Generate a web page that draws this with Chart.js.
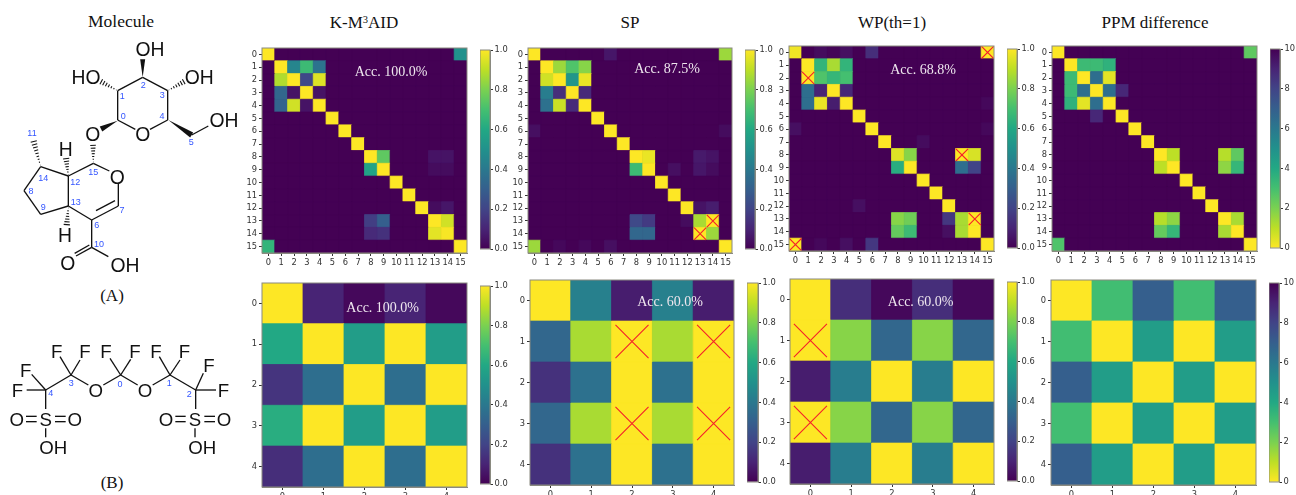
<!DOCTYPE html>
<html><head><meta charset="utf-8">
<script src="https://cdn.jsdelivr.net/npm/chart.js@4"></script>
<style>
html,body{margin:0;padding:0;background:#fff;width:1296px;height:495px;overflow:hidden}
canvas{position:absolute;display:block}
.t{position:absolute;transform:translate(-50%,-50%);font-family:"Liberation Serif",serif;white-space:nowrap;color:#111;line-height:1}
.t sup{font-size:.62em;line-height:0;vertical-align:.42em}
.acc{color:#eee6ee;font-size:14px;z-index:5}
svg{position:absolute;left:0;top:0}
</style></head><body>
<script>
// ---------- data ----------
const atoms16 = [0,1,2,3,4,5,6,7,8,9,10,11,12,13,14,15];
const atoms5 = [0,1,2,3,4];
const scoreTicks = [0,0.2,0.4,0.6,0.8,1];
const ppmTicks = [0,2,4,6,8,10];

const kmaidA = [
[1,0,0,0,0,0,0,0,0,0,0,0,0,0,0,.5],
[0,1,.45,.68,.38,0,0,0,0,0,0,0,0,0,0,0],
[0,.88,1,.22,.95,0,0,0,0,0,0,0,0,0,0,0],
[0,.33,.05,1,.05,0,0,0,0,0,0,0,0,0,0,0],
[0,.32,.93,.05,1,0,0,0,0,0,0,0,0,0,0,0],
[0,0,0,0,0,1,0,0,0,0,0,0,0,0,0,0],
[0,0,0,0,0,0,1,0,0,0,0,0,0,0,0,0],
[0,0,0,0,0,0,0,1,0,0,0,0,0,0,0,0],
[0,0,0,0,0,0,0,0,1,.75,0,0,0,.05,.05,0],
[0,0,0,0,0,0,0,0,.58,1,0,0,0,.03,.03,0],
[0,0,0,0,0,0,0,0,0,0,1,0,0,0,0,0],
[0,0,0,0,0,0,0,0,0,0,0,1,0,0,0,0],
[0,0,0,0,0,0,0,0,0,0,0,0,1,.03,.06,0],
[0,0,0,0,0,0,0,0,.18,.3,0,0,0,1,.93,0],
[0,0,0,0,0,0,0,0,.12,.14,0,0,0,.96,.99,0],
[.65,0,0,0,0,0,0,0,0,0,0,0,0,0,0,1]];
const spA = [
[1,0,0,0,0,0,.06,0,0,0,0,0,0,0,0,.85],
[0,1,.85,.72,.82,0,0,0,0,0,0,0,0,0,0,0],
[0,.93,1,.52,.97,0,0,0,0,0,0,0,0,0,0,0],
[0,.42,.13,1,.12,0,0,0,0,0,0,0,0,0,0,0],
[0,.37,.92,.12,1,0,0,0,0,0,0,0,0,0,0,0],
[0,0,0,0,0,1,0,0,0,0,0,0,0,0,0,0],
[.04,0,0,0,0,0,1,0,0,0,0,0,0,0,0,.03],
[0,0,0,0,0,0,0,1,0,0,0,0,0,0,0,0],
[0,0,0,0,0,0,0,0,1,.97,0,0,0,.07,.05,0],
[0,0,0,0,0,0,0,0,.68,1,0,.04,0,.06,.03,0],
[0,0,0,0,0,0,0,0,0,0,1,0,0,0,0,0],
[0,0,0,0,0,0,0,0,0,0,0,1,0,0,0,0],
[0,0,0,0,0,0,0,0,0,0,0,0,1,.05,.08,0],
[0,0,0,0,0,0,0,0,.22,.17,0,0,.03,.87,1,0],
[0,0,0,0,0,0,0,0,.33,.33,0,0,0,1,.85,0],
[.85,0,.02,0,.02,0,.04,0,0,0,0,0,0,0,0,1]];
const wpA = [
[.98,0,.03,.01,.04,0,.13,0,0,0,0,0,0,0,0,1],
[0,1,.65,.87,.65,0,0,0,0,0,0,0,0,0,0,0],
[0,1,.72,.66,.7,0,0,0,0,0,0,0,0,0,0,0],
[0,.36,.1,1,.11,0,0,0,0,0,0,0,0,0,0,0],
[0,.36,.97,.08,1,0,0,0,0,0,0,0,0,0,0,.02],
[0,0,0,0,0,1,0,0,0,0,0,0,0,0,0,0],
[.04,0,0,0,0,0,1,0,0,0,0,0,0,0,0,.02],
[0,0,0,0,0,0,0,1,0,0,.03,0,0,0,0,0],
[0,0,0,0,0,0,0,0,.95,.82,0,0,0,1,.94,0],
[0,0,0,0,0,0,0,0,.62,1,0,0,0,.36,.2,0],
[0,0,0,0,0,0,0,0,0,0,1,0,0,0,0,0],
[0,0,0,0,0,0,0,0,0,0,0,1,0,0,0,0],
[0,0,0,0,0,.04,0,0,0,0,0,0,1,0,0,0],
[0,0,0,0,0,0,0,0,.82,.78,0,0,.16,.87,1,0],
[0,0,0,0,0,0,0,0,.76,.68,0,0,.04,.87,1,0],
[1,0,.02,0,.04,0,.16,0,0,0,0,0,0,0,0,1]];
const ppmA = [
[0,10,10,10,10,10,10,10,10,10,10,10,10,10,10,2.5],
[10,0,3.2,3.2,3.6,10,10,10,10,10,10,10,10,10,10,10],
[10,3.2,0,6.4,.4,10,10,10,10,10,10,10,10,10,10,10],
[10,3.2,6.4,0,6.4,8.9,10,10,10,10,10,10,10,10,10,10],
[10,3.6,.4,6.4,0,10,10,10,10,10,10,10,10,10,10,10],
[10,10,10,8.9,10,0,10,10,10,10,10,10,10,10,10,10],
[10,10,10,10,10,10,0,10,10,10,10,10,10,10,10,10],
[10,10,10,10,10,10,10,0,10,10,10,10,10,10,10,10],
[10,10,10,10,10,10,10,10,0,1,10,10,10,1.1,2.5,10],
[10,10,10,10,10,10,10,10,1,0,10,10,10,1.7,3.4,10],
[10,10,10,10,10,10,10,10,10,10,0,10,10,10,10,10],
[10,10,10,10,10,10,10,10,10,10,10,0,10,10,10,10],
[10,10,10,10,10,10,10,10,10,10,10,10,0,10,10,10],
[10,10,10,10,10,10,10,10,1.1,1.7,10,10,10,0,1.3,10],
[10,10,10,10,10,10,10,10,2.4,3.4,10,10,10,1.3,0,10],
[2.8,10,10,10,10,10,10,10,10,10,10,10,10,10,10,0]];
const kmaidB = [[1,.1,.02,.1,.02],[.6,1,.55,1,.55],[.15,.36,1,.36,1],[.62,1,.55,1,.55],[.13,.36,1,.36,1]];
const spB = [[1,.43,.08,.43,.08],[.33,.87,1,.87,1],[.14,.37,1,.37,1],[.33,.87,1,.87,1],[.14,.37,1,.37,1]];
const wpB = [[1,.13,.02,.13,.02],[1,.82,.33,.82,.33],[.08,.42,1,.42,1],[1,.82,.33,.82,.33],[.08,.42,1,.42,1]];
const ppmB = [[0,3.1,7,3.1,7],[3.1,0,4.5,0,4.5],[7,4.5,0,4.5,0],[3.1,0,4.5,0,4.5],[7,4.5,0,4.5,0]];

// wrong-match cells [row, column]
const spAWrong = [[13,14],[14,13]];
const wpAWrong = [[0,15],[2,1],[8,13],[13,14],[15,0]];
const spBWrong = [[1,2],[1,4],[3,2],[3,4]];
const wpBWrong = [[1,0],[3,0]];

// ---------- colour map ----------
const viridis = ['#440154','#482475','#414487','#355f8d','#2a788e','#21918c','#22a884','#44bf70','#7ad151','#bddf26','#fde725'];
const rgb = h => [1,3,5].map(i=>parseInt(h.substr(i,2),16));
function vir(t){
  t=Math.max(0,Math.min(1,t));const p=t*10,i=Math.min(9,Math.floor(p)),f=p-i;
  const a=rgb(viridis[i]),b=rgb(viridis[i+1]);
  return `rgb(${a.map((v,k)=>Math.round(v+(b[k]-v)*f)).join(',')})`;
}

// ---------- charts ----------
const FONT={family:'"DejaVu Sans"',size:8.3};
const TICK='#333', EDGE='#8a8a80';
const frame={id:'frame',afterDraw(c){const a=c.chartArea,x=c.ctx;x.save();x.strokeStyle=EDGE;x.lineWidth=1;
  x.strokeRect(a.left,a.top,a.width,a.height);x.restore();}};
const under={id:'under',beforeDatasetsDraw(c){const a=c.chartArea,x=c.ctx;x.save();x.fillStyle=viridis[0];
  x.fillRect(a.left,a.top,a.width,a.height);x.restore();}};
const YW=26,XH=20,PAD=3,BPAD=7;
const noPad=s=>{s.paddingTop=s.paddingBottom=s.paddingLeft=s.paddingRight=0;};
function mk(left,top,w,h){const cv=document.createElement('canvas');
  cv.width=w;cv.height=h;cv.style.left=left+'px';cv.style.top=top+'px';cv.style.width=w+'px';cv.style.height=h+'px';
  document.body.appendChild(cv);return cv;}

function heat(box,matrix,cats,wrong,xSpan,reversed){
  const [l,t,r,b]=box,n=cats.length;
  const cv=mk(Math.round(l)-YW,Math.round(t)-PAD,Math.round(r-l)+YW+PAD,Math.round(b-t)+PAD+XH);
  const cells=[];matrix.forEach((row,y)=>row.forEach((v,x)=>cells.push({x,y,v})));
  const col=v=>reversed?vir(1-v/10):vir(v);
  const cell=c=>c.chart.chartArea?c.chart.chartArea.width/n:10;
  const intAxis=()=>({type:'linear',min:-.5,max:n-.5,
    afterBuildTicks:s=>{s.ticks=cats.map(v=>({value:v}));},
    ticks:{autoSkip:false,maxRotation:0,font:FONT,color:'#333',padding:2,callback:v=>String(v)},
    grid:{drawOnChartArea:false,drawTicks:true,tickLength:3,tickColor:TICK},
    border:{color:EDGE,width:1}});
  const x=intAxis(),y=intAxis();
  y.reverse=true;y.afterFit=s=>{s.width=YW;noPad(s);};x.afterFit=s=>{s.height=XH;noPad(s);};
  new Chart(cv,{type:'scatter',plugins:[under,frame],data:{datasets:[
    {label:'wrong',order:0,data:wrong.map(([ry,cx])=>({x:cx,y:ry})),pointStyle:'crossRot',
     pointRadius:c=>cell(c)*xSpan*Math.SQRT1_2,pointBorderColor:'#f5202a',pointBorderWidth:1.1,pointBackgroundColor:'transparent'},
    {label:'cells',order:1,data:cells,pointStyle:'rect',
     pointRadius:c=>cell(c)*Math.SQRT1_2,
     pointBackgroundColor:c=>c.raw?col(c.raw.v):'#000',pointBorderColor:c=>c.raw?col(c.raw.v):'#000',pointBorderWidth:.8}
  ]},options:{responsive:false,animation:false,events:[],layout:{autoPadding:false,padding:{top:PAD,right:PAD,left:0,bottom:0}},
    plugins:{legend:{display:false},tooltip:{enabled:false}},scales:{x,y}}});
}
function bar(box,ticks,reversed){
  const [l,t,r,b]=box,lo=ticks[0],hi=ticks[ticks.length-1];
  const cv=mk(Math.round(l),Math.round(t)-BPAD,Math.round(r-l)+24,Math.round(b-t)+2*BPAD);
  new Chart(cv,{type:'bar',plugins:[frame],data:{labels:[''],datasets:[{data:[[lo,hi]],barPercentage:1,categoryPercentage:1,
    backgroundColor(c){const a=c.chart.chartArea;if(!a)return '#888';
      const g=c.chart.ctx.createLinearGradient(0,a.bottom,0,a.top);
      viridis.forEach((h,i)=>g.addColorStop(reversed?1-i/10:i/10,h));return g;}}]},
   options:{responsive:false,animation:false,events:[],layout:{autoPadding:false,padding:{top:BPAD,bottom:BPAD,left:0,right:0}},
    plugins:{legend:{display:false},tooltip:{enabled:false}},
    scales:{x:{display:false},y:{position:'right',min:lo,max:hi,
      afterBuildTicks:s=>{s.ticks=ticks.map(v=>({value:v}));},afterFit:s=>{s.width=24;noPad(s);},
      ticks:{autoSkip:false,font:FONT,color:'#333',padding:1.5,callback:v=>ticks===ppmTicks?String(v):v.toFixed(1)},
      grid:{drawOnChartArea:false,drawTicks:true,tickLength:3,tickColor:TICK},border:{color:EDGE}}}}});
}
heat([262.3,47.7,467.3,252.3],kmaidA,atoms16,[],.95,false);
heat([528.3,47.7,732.7,252.3],spA,atoms16,spAWrong,.95,false);
heat([789.3,46.3,994.3,251],wpA,atoms16,wpAWrong,.95,false);
heat([1052.3,46.3,1257,251],ppmA,atoms16,[],.95,true);
heat([262.3,283.3,467.3,487],kmaidB,atoms5,[],.81,false);
heat([530,280.3,734.3,485],spB,atoms5,spBWrong,.81,false);
heat([790.3,279.3,994.7,484],wpB,atoms5,wpBWrong,.81,false);
heat([1051.3,280.3,1256,485],ppmB,atoms5,[],.81,true);
bar([480.3,50.3,490.7,249.3],scoreTicks,false);
bar([745.3,50.3,755.7,249.3],scoreTicks,false);
bar([1007.3,49.3,1017.7,248.3],scoreTicks,false);
bar([1269.7,49.3,1280,248.3],ppmTicks,true);
bar([480.3,286.3,490.7,484.3],scoreTicks,false);
bar([747.3,283.3,758,482.3],scoreTicks,false);
bar([1007.3,282.3,1017.7,481.3],scoreTicks,false);
bar([1268.7,283.3,1279,482.3],ppmTicks,true);

// ---------- text ----------
function txt(html,x,y,size,cls){const d=document.createElement('div');d.className='t '+(cls||'');d.innerHTML=html;
  d.style.left=x+'px';d.style.top=y+'px';if(size)d.style.fontSize=size+'px';document.body.appendChild(d);}
txt('Molecule',121,22,17.5);
txt('K-M<sup>3</sup>AID',364,22,17);
txt('SP',630,22,17);
txt('WP(th=1)',892,22,17);
txt('PPM difference',1155,22,17);
txt('(A)',112,295,17);
txt('(B)',112,482,17);
txt('Acc. 100.0%',391,71.7,0,'acc');
txt('Acc. 87.5%',667,69.3,0,'acc');
txt('Acc. 68.8%',923,70.3,0,'acc');
txt('Acc. 100.0%',382.7,308.3,0,'acc');
txt('Acc. 60.0%',670,301.7,0,'acc');
txt('Acc. 60.0%',920.7,301.7,0,'acc');

// ---------- molecule structures (decorative, not data) ----------
let s='';
const K='#111';
const L=(a,b,c,d,w=4)=>{s+=`<line x1="${a}" y1="${b}" x2="${c}" y2="${d}" stroke="${K}" stroke-width="${w}"/>`;};
const W=(a,b,c,d,wd=16)=>{const dx=c-a,dy=d-b,m=Math.hypot(dx,dy),nx=-dy/m*wd/2,ny=dx/m*wd/2;
  s+=`<polygon points="${a},${b} ${c+nx},${d+ny} ${c-nx},${d-ny}" fill="${K}"/>`;};
const H=(a,b,c,d,wd=18,k=7)=>{const dx=c-a,dy=d-b,m=Math.hypot(dx,dy),nx=-dy/m,ny=dx/m;
  for(let i=0;i<k;i++){const f=(i+.5)/k,px=a+dx*f,py=b+dy*f,h=wd/2*f;L(px+nx*h,py+ny*h,px-nx*h,py-ny*h,3.2);}};
const T=(str,x,y,sz=58,col=K)=>{s+=`<text x="${x}" y="${y}" text-anchor="middle" dominant-baseline="central" font-family="Liberation Sans" font-size="${sz}" fill="${col}">${str}</text>`;};
const N=(str,x,y)=>T(str,x,y,27,'#3355ff');
// (A)
L(353,360,353,272);L(353,272,428,232);L(428,232,503,272);L(503,272,503,360);L(503,360,450,388);L(353,360,406,388);
W(428,232,428,178,15);H(353,272,300,243);H(503,272,555,243);W(353,362,303,387,17);W(505,360,575,405,17);
L(575,405,625,378);H(280,490,279,432,18);L(280,490,328,513);L(355,552,355,618);L(355,618,275,660);L(345,602,288,632);
L(275,660,205,618);L(205,618,205,528);L(205,528,280,490);L(205,528,122,500);L(122,500,72,572);L(72,572,122,643);L(122,643,205,618);
H(122,500,100,420,20,9);H(205,528,198,472,20);H(205,620,200,678,20);L(275,660,275,742);
L(275,742,228,768);L(268,735,224,760);L(275,742,325,770);
T('OH',450,147);T('HO',258,233);T('OH',598,233);T('O',278,402);T('O',428,402);T('OH',672,360);T('O',352,532);
T('H',197,447);T('H',195,705);T('O',203,790);T('OH',375,795);
[['0',370,347],['1',367,288],['2',430,254],['3',487,284],['4',486,347],['5',574,427],['11',96,400],['14',130,534],['15',280,516],['12',226,545],['8',93,572],['9',130,620],['13',227,607],['7',366,630],['6',290,674],['10',297,733]].forEach(a=>N(...a));
// (B)
s+='<g transform="translate(0,930)">';
L(80,240,137,240);L(95,193,137,240);L(180,140,213,195);L(240,150,213,195);L(137,240,213,195);L(213,195,265,225);L(310,225,362,195);
L(330,145,362,195);L(392,148,362,195);L(362,195,413,225);L(458,225,510,195);L(478,140,510,195);L(540,150,510,195);L(510,195,587,240);
L(610,190,587,240);L(587,240,648,240);L(587,240,587,297);L(137,240,137,297);L(137,355,137,382);L(585,355,585,382);
[[78,110],[165,197]].forEach(([a,b])=>{L(a,319,b,319);L(a,335,b,335);});
[[526,557],[613,645]].forEach(([a,b])=>{L(a,319,b,319);L(a,335,b,335);});
[['F',52,240],['F',77,180],['F',170,125],['F',255,125],['F',318,125],['F',405,125],['F',468,125],['F',553,125],['F',627,165],['F',670,240],
 ['O',287,240],['O',435,240],['S',137,327],['O',50,327],['O',224,327],['S',585,327],['O',498,327],['O',672,327],['OH',160,413],['OH',607,413]].forEach(a=>T(a[0],a[1],a[2],56));
[['4',152,250],['3',214,220],['0',360,223],['1',508,218],['2',568,252]].forEach(a=>N(...a));
s+='</g>';
const holder=document.createElement('div');
holder.innerHTML=`<svg width="250" height="495" viewBox="0 0 750 1485" xmlns="http://www.w3.org/2000/svg">${s}</svg>`;
document.body.appendChild(holder);
</script>
</body></html>
